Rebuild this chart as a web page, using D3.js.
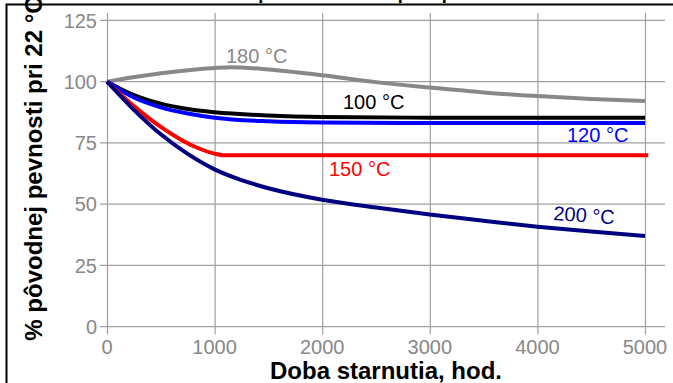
<!DOCTYPE html>
<html>
<head>
<meta charset="utf-8">
<script src="https://cdn.jsdelivr.net/npm/d3@7"></script>
<style>
  html, body { margin: 0; padding: 0; background: #fff; overflow: hidden; }
  svg { display: block; font-family: "Liberation Sans", Arial, sans-serif; }
</style>
</head>
<body>
<svg id="chart" width="673" height="383"></svg>
<script>
// ---- data ----
const xTicks = [0, 1000, 2000, 3000, 4000, 5000];
const yTicks = [0, 25, 50, 75, 100, 125];

const hours180 = [0, 500, 1000, 1150, 1500, 2000, 2500, 3000, 3500, 4000, 4500, 5000];
const vals180  = [100, 103.4, 105.6, 105.9, 105.0, 102.6, 99.8, 97.6, 95.6, 94.1, 92.9, 92.1];

const hours100 = [0, 250, 500, 750, 1000, 1500, 2000, 3000, 5000];
const vals100  = [100, 94.5, 91.0, 88.8, 87.5, 86.2, 85.6, 85.3, 85.3];

const hours120 = [0, 250, 500, 750, 1000, 1500, 2000, 3000, 5000];
const vals120  = [100, 93.5, 89.5, 87.0, 85.3, 83.8, 83.3, 83.1, 83.1];

const hours150 = [0, 250, 500, 700, 850, 1000, 1080, 5030];
const vals150  = [100, 90.0, 81.5, 76.0, 72.8, 70.6, 70.0, 70.0];

const hours200 = [0, 250, 500, 750, 1000, 1250, 1500, 2000, 2500, 3000, 3500, 4000, 4500, 5000];
const vals200  = [100, 88.5, 78.5, 70.5, 64.2, 59.8, 56.5, 51.8, 48.6, 45.8, 43.2, 40.8, 38.8, 37.0];

const seriesNames  = ["180 °C", "100 °C", "120 °C", "150 °C", "200 °C"];
const seriesColors = ["#888888", "#000000", "#0000ff", "#ff0000", "#000080"];

const xTitle = "Doba starnutia, hod.";
const yTitle = "% pôvodnej pevnosti pri 22 °C";
const chartTitle = "Zmena pevnosti v ťahu pri tepelnom starnutí";

// ---- build ----
const svg = d3.select("#chart");
const x = d3.scaleLinear().domain([0, 5000]).range([107, 645]);
const y = d3.scaleLinear().domain([0, 125]).range([326.6, 20.4]);

// frame
svg.append("rect").attr("x", 6.5).attr("y", 4.5).attr("width", 700).attr("height", 400)
  .attr("fill", "none").attr("stroke", "#000").attr("stroke-width", 2);

// clipped title (only descenders visible, as in the reference)
svg.append("text").attr("x", 386).attr("y", -1.5).attr("text-anchor", "middle")
  .attr("font-size", 18).attr("font-weight", "bold").attr("fill", "#000").text(chartTitle);

// grid
const gridColor = "#a0a0a0";
svg.append("g").selectAll("line").data(xTicks).join("line")
  .attr("x1", d => x(d) + 0.5).attr("x2", d => x(d) + 0.5)
  .attr("y1", y(125) - 7.5).attr("y2", y(0) + 8)
  .attr("stroke", gridColor).attr("stroke-width", 1.2);
svg.append("g").selectAll("line").data(yTicks).join("line")
  .attr("x1", x(0) - 7).attr("x2", 665)
  .attr("y1", d => y(d)).attr("y2", d => y(d))
  .attr("stroke", gridColor).attr("stroke-width", 1.2);

// tick labels
const tickColor = "#888888";
svg.append("g").selectAll("text").data(yTicks).join("text")
  .attr("x", 97).attr("y", d => y(d)).attr("dy", "0.36em")
  .attr("text-anchor", "end").attr("font-size", 20).attr("fill", tickColor)
  .text(d => d);
svg.append("g").selectAll("text").data(xTicks).join("text")
  .attr("x", d => x(d)).attr("y", 354)
  .attr("text-anchor", "middle").attr("font-size", 20).attr("fill", tickColor)
  .text(d => d);

// axis titles
svg.append("text").attr("x", 386).attr("y", 379).attr("text-anchor", "middle")
  .attr("font-size", 24).attr("font-weight", "bold").attr("fill", "#000").text(xTitle);
svg.append("text").attr("transform", "translate(42,168.5) rotate(-90)")
  .attr("text-anchor", "middle")
  .attr("font-size", 24).attr("font-weight", "bold").attr("fill", "#000").text(yTitle);

// lines
const allHours = [hours180, hours100, hours120, hours150, hours200];
const allVals  = [vals180, vals100, vals120, vals150, vals200];
const line = d3.line().x(d => x(d[0])).y(d => y(d[1])).curve(d3.curveMonotoneX);
allHours.forEach((hs, i) => {
  const pts = hs.map((h, j) => [h, allVals[i][j]]);
  svg.append("path").attr("d", line(pts)).attr("fill", "none")
    .attr("stroke", seriesColors[i]).attr("stroke-width", 4)
    .attr("stroke-linejoin", "round");
});

// series labels
const labelPos = [
  {x: 226, y: 63, r: 0},
  {x: 343, y: 109, r: 0},
  {x: 567, y: 142, r: 0},
  {x: 329, y: 176, r: 0},
  {x: 553, y: 220, r: 4}
];
seriesNames.forEach((name, i) => {
  svg.append("text")
    .attr("transform", `translate(${labelPos[i].x},${labelPos[i].y}) rotate(${labelPos[i].r})`)
    .attr("font-size", 20).attr("fill", seriesColors[i]).text(name);
});
</script>
</body>
</html>
